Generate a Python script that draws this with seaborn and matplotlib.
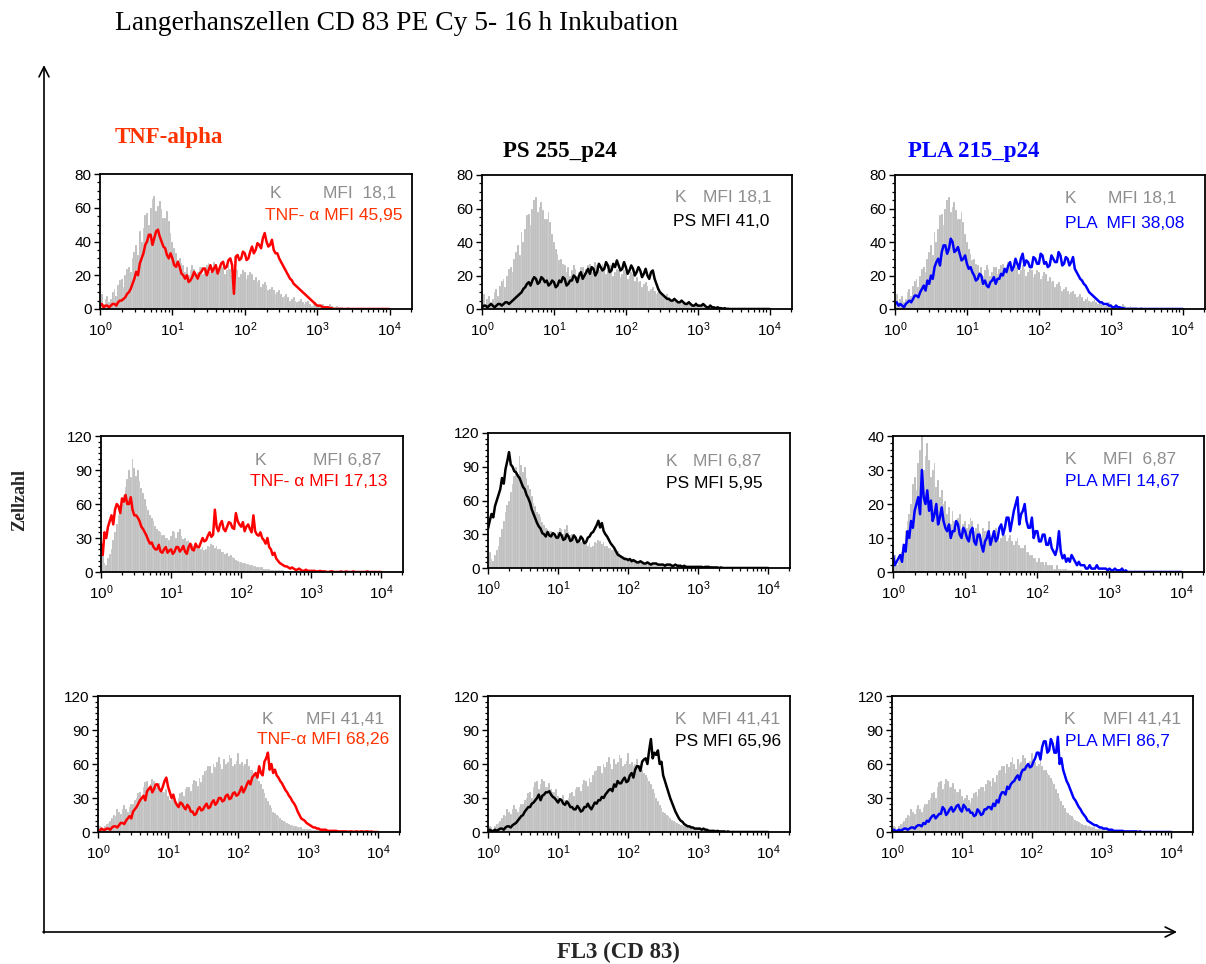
import numpy as np
import matplotlib
matplotlib.use("Agg")
import matplotlib.pyplot as plt
import seaborn as sns
from matplotlib.ticker import AutoMinorLocator, FixedLocator, LogLocator, NullFormatter

# ---------------------------------------------------------------------------
# Cell counts per channel; channels spaced 0.025 decades from 10^0 to 10^4.
# Each source line holds half a decade (20 channels).
# ---------------------------------------------------------------------------
LOG_START, LOG_STOP, N_BINS = 0.0, 4.0, 161
Z20 = [0] * 20

# Control (K) histograms
k_row1 = ([5, 9, 3, 6, 8, 4, 6, 10, 12, 8, 14, 17, 18, 13, 20, 24, 25, 22, 30, 34] +
          [38, 32, 46, 40, 48, 56, 57, 50, 60, 65, 67, 58, 61, 64, 59, 54, 54, 58, 52, 45] +
          [40, 36, 33, 29, 30, 27, 26, 22, 25, 20, 23, 26, 24, 20, 22, 25, 25, 21, 24, 26] +
          [27, 22, 25, 28, 26, 23, 24, 27, 25, 21, 23, 26, 24, 20, 22, 24, 23, 19, 21, 23] +
          [22, 18, 20, 22, 21, 17, 19, 16, 17, 13, 15, 16, 14, 11, 12, 13, 11, 9, 10, 11] +
          [9, 7, 8, 9, 7, 5, 6, 7, 5, 4, 5, 6, 4, 3, 4, 5, 3, 2, 3, 4] +
          [3, 2, 2, 3, 2, 1, 2, 3, 2, 1, 1, 2, 1, 1, 1, 0.5, 0.5, 1, 0.5, 0.5] +
          [0.5, 0, 0.5, 0, 0, 0, 0, 0, 0, 0, 0, 0, 0, 0, 0, 0, 0, 0, 0, 0] + [0])
k_row2 = ([10, 14, 8, 6, 12, 16, 20, 28, 35, 42, 50, 56, 60, 68, 75, 82, 90, 84, 100, 92] +
          [85, 90, 80, 74, 70, 64, 58, 55, 50, 48, 45, 41, 38, 36, 35, 33, 33, 30, 30, 28] +
          [32, 36, 35, 30, 35, 38, 32, 29, 30, 27, 28, 24, 25, 23, 24, 21, 22, 20, 22, 19] +
          [20, 23, 22, 25, 24, 21, 23, 20, 20, 18, 18, 16, 17, 14, 15, 13, 12, 11, 10, 9] +
          [9, 8, 8, 7, 7, 6, 6, 5, 5, 4, 4, 4, 4, 3, 3, 3, 3, 2, 2, 2] +
          [2, 2, 2, 2, 2, 1, 1, 1, 1, 1, 1, 1, 1, 0.5, 0.5, 0.5, 0.5, 0.5, 0.5, 0.5] +
          [0.5, 0.5, 0.5, 0, 0.5, 0, 0, 0, 0, 0, 0, 0, 0, 0, 0, 0, 0, 0, 0, 0] +
          Z20 + [0])
k_row2_pla = ([3, 5, 2, 3, 4, 6, 8, 12, 15, 17, 20, 26, 28, 24, 32, 36, 40, 30, 34, 38] +
              [33, 28, 30, 32, 25, 27, 22, 24, 20, 21, 17, 19, 14, 18, 15, 13, 16, 17, 13, 14] +
              [15, 13, 14, 16, 15, 12, 13, 14, 12, 10, 13, 12, 12, 15, 11, 10, 12, 13, 11, 9] +
              [10, 12, 11, 9, 10, 11, 9, 8, 9, 10, 8, 7, 7, 8, 6, 6, 5, 5, 4, 4] +
              [3, 4, 3, 3, 2, 3, 2, 2, 2, 1, 1, 2, 1, 1, 1, 1, 1, 0.5, 0.5, 0.5] +
              [0.5, 0.5, 0.5, 0.5, 0.5, 0, 0, 0, 0, 0, 0, 0, 0, 0, 0, 0, 0, 0, 0, 0] +
              Z20 + Z20 + [0])
k_row3 = ([3, 5, 4, 2, 5, 7, 8, 10, 12, 15, 14, 20, 18, 16, 20, 24, 20, 18, 22, 25] +
          [25, 28, 30, 34, 35, 30, 40, 44, 45, 38, 42, 47, 45, 40, 40, 43, 38, 35, 35, 38] +
          [32, 28, 30, 33, 28, 26, 30, 34, 35, 32, 38, 40, 40, 36, 42, 46, 45, 41, 48, 44] +
          [50, 54, 55, 58, 58, 52, 60, 57, 62, 66, 60, 56, 64, 60, 62, 68, 65, 58, 60, 63] +
          [70, 60, 62, 58, 60, 64, 58, 55, 55, 52, 50, 48, 45, 42, 38, 34, 30, 27, 24, 21] +
          [18, 17, 15, 14, 12, 11, 10, 9, 8, 7, 6, 6, 5, 5, 4, 4, 4, 3, 3, 3] +
          [3, 3, 2, 2, 2, 2, 2, 1, 1, 1, 1, 1, 1, 1, 1, 1, 1, 0.5, 0.5, 0.5] +
          [0.5, 0.5, 0.5, 0.5, 0.5, 0, 0, 0, 0, 0, 0, 0, 0, 0, 0, 0, 0, 0, 0, 0] + [0])

# Stimulated samples
tnf_row1 = ([2, 3, 1, 2, 2, 1, 2, 3, 3, 2, 4, 5, 5, 6, 7, 9, 10, 12, 15, 18] +
            [22, 20, 27, 30, 33, 38, 40, 44, 44, 38, 42, 46, 47, 43, 40, 37, 36, 32, 30, 33] +
            [30, 26, 25, 28, 25, 21, 20, 18, 20, 16, 17, 19, 22, 20, 18, 21, 22, 24, 24, 20] +
            [23, 26, 22, 24, 26, 21, 24, 27, 28, 24, 25, 29, 30, 26, 9, 31, 32, 29, 30, 34] +
            [33, 29, 30, 34, 37, 33, 35, 39, 38, 36, 42, 45, 40, 37, 38, 41, 35, 33, 33, 30] +
            [28, 26, 24, 22, 20, 18, 17, 15, 14, 13, 12, 11, 10, 9, 8, 7, 6, 5, 4, 3] +
            [2, 2, 2, 1, 1, 1, 1, 0.5, 0.5, 0, 0, 0, 0, 0, 0, 0, 0, 0, 0, 0] +
            Z20 + [0])
ps_row1 = ([1, 2, 2, 1, 2, 3, 2, 1, 2, 3, 3, 2, 3, 4, 4, 3, 4, 5, 6, 7] +
           [8, 9, 10, 12, 13, 15, 16, 14, 17, 19, 18, 15, 16, 19, 18, 16, 17, 14, 15, 17] +
           [16, 13, 14, 17, 16, 19, 18, 14, 15, 17, 17, 20, 19, 16, 20, 22, 18, 20, 22, 24] +
           [21, 25, 24, 20, 22, 27, 25, 23, 24, 28, 26, 22, 23, 27, 25, 29, 26, 23, 24, 28] +
           [25, 21, 23, 26, 24, 20, 22, 25, 23, 19, 21, 24, 20, 18, 22, 23, 18, 15, 12, 10] +
           [9, 8, 7, 6, 6, 5, 5, 6, 5, 4, 4, 5, 4, 3, 3, 4, 3, 2, 2, 3] +
           [2, 2, 2, 3, 2, 1, 1, 2, 1, 1, 0.5, 1, 0.5, 0.5, 0, 0.5, 0, 0, 0, 0] +
           Z20 + [0])
pla_row1 = ([3, 4, 2, 3, 2, 1, 3, 4, 5, 4, 6, 8, 8, 7, 10, 12, 14, 11, 17, 15] +
            [20, 18, 25, 28, 30, 26, 34, 38, 38, 33, 36, 42, 40, 34, 35, 37, 33, 29, 30, 32] +
            [27, 24, 25, 22, 20, 17, 18, 21, 20, 15, 17, 14, 13, 16, 17, 19, 15, 18, 18, 21] +
            [20, 24, 22, 26, 28, 23, 25, 30, 27, 24, 30, 33, 26, 29, 28, 25, 25, 31, 30, 27] +
            [27, 33, 32, 27, 28, 25, 26, 32, 30, 28, 28, 34, 32, 26, 27, 31, 30, 26, 28, 31] +
            [24, 22, 20, 18, 17, 15, 14, 12, 10, 9, 8, 7, 6, 5, 4, 4, 3, 3, 3, 2] +
            [2, 1, 1, 2, 1, 1, 0.5, 0.5, 0, 0, 0, 0, 0, 0, 0, 0, 0, 0, 0, 0] +
            Z20 + [0])
tnf_row2 = ([25, 15, 35, 30, 40, 45, 50, 42, 55, 60, 58, 52, 65, 62, 68, 60, 60, 66, 55, 50] +
            [50, 48, 45, 40, 38, 35, 32, 28, 25, 26, 22, 20, 20, 24, 18, 17, 20, 22, 17, 19] +
            [20, 16, 18, 22, 22, 18, 20, 23, 18, 16, 22, 25, 20, 19, 25, 22, 22, 26, 30, 27] +
            [28, 32, 35, 31, 33, 55, 40, 36, 42, 45, 38, 36, 40, 44, 43, 39, 38, 52, 45, 42] +
            [40, 44, 36, 40, 42, 38, 35, 50, 36, 33, 32, 35, 30, 28, 25, 30, 22, 20, 15, 17] +
            [12, 10, 8, 7, 6, 5, 5, 4, 3, 4, 3, 2, 2, 3, 2, 1, 1, 2, 1, 1] +
            [1, 1, 1, 0.5, 0.5, 1, 0.5, 0.5, 0.5, 0, 0, 0.5, 0.5, 0, 0, 0, 0, 0.5, 0, 0] +
            [0.5, 0, 0, 0, 0.5, 0, 0, 0, 0, 0, 0, 0, 0.5, 0, 0, 0, 0, 0, 0, 0] + [0])
ps_row2 = ([35, 42, 48, 45, 55, 60, 65, 70, 80, 75, 88, 95, 103, 92, 90, 86, 85, 82, 80, 76] +
           [72, 70, 65, 62, 58, 52, 48, 44, 40, 37, 35, 31, 30, 28, 32, 29, 28, 31, 30, 27] +
           [27, 31, 29, 25, 26, 30, 28, 24, 25, 29, 27, 23, 24, 28, 26, 22, 23, 27, 28, 31] +
           [32, 35, 38, 42, 36, 40, 33, 30, 28, 25, 22, 20, 18, 15, 12, 11, 10, 9, 8, 8] +
           [7, 8, 6, 7, 6, 5, 5, 6, 5, 4, 4, 5, 4, 3, 4, 4, 4, 3, 3, 3] +
           [3, 2, 3, 3, 3, 2, 2, 3, 2, 2, 2, 1, 2, 1, 1, 1, 1, 1, 1, 1] +
           [1, 1, 1, 0.5, 1, 1, 1, 0.5, 0.5, 0.5, 0.5, 0.5, 0, 0.5, 0, 0, 0, 0, 0, 0] +
           Z20 + [0])
pla_row2 = ([5, 2, 3, 4, 5, 3, 8, 6, 12, 10, 15, 13, 18, 20, 22, 17, 30, 22, 20, 24] +
            [18, 21, 15, 17, 20, 14, 16, 19, 15, 13, 12, 14, 10, 12, 12, 15, 14, 11, 10, 13] +
            [12, 10, 9, 12, 13, 9, 8, 11, 11, 8, 6, 9, 10, 12, 8, 10, 12, 9, 10, 13] +
            [14, 11, 13, 16, 16, 12, 15, 18, 20, 22, 14, 17, 18, 20, 15, 13, 13, 16, 10, 12] +
            [12, 9, 9, 11, 11, 8, 8, 10, 7, 6, 5, 7, 12, 6, 4, 5, 3, 4, 3, 5] +
            [4, 3, 2, 3, 2, 2, 2, 1, 1, 2, 1, 1, 1, 2, 1, 1, 1, 1, 1, 0.5] +
            [1, 0.5, 0.5, 1, 0.5, 0.5, 0.5, 1, 0, 0.5, 0, 0, 0, 0, 0, 0, 0, 0, 0, 0] +
            Z20 + [0])
tnf_row3 = ([2, 1, 3, 2, 2, 3, 3, 2, 4, 5, 5, 4, 6, 8, 8, 7, 10, 12, 14, 12] +
            [18, 20, 22, 25, 28, 30, 32, 28, 36, 38, 40, 35, 38, 42, 42, 38, 36, 40, 45, 48] +
            [40, 35, 30, 33, 27, 24, 22, 26, 25, 22, 20, 24, 22, 18, 18, 15, 16, 20, 22, 19] +
            [20, 23, 25, 21, 22, 26, 28, 24, 26, 30, 30, 27, 28, 32, 33, 29, 30, 34, 35, 32] +
            [33, 36, 40, 35, 38, 42, 45, 42, 48, 50, 52, 48, 58, 52, 50, 62, 65, 70, 55, 60] +
            [52, 55, 50, 48, 45, 43, 40, 37, 35, 32, 30, 27, 25, 22, 18, 15, 12, 11, 10, 8] +
            [7, 6, 5, 4, 4, 3, 3, 2, 2, 2, 2, 1, 1, 1, 1, 1, 1, 0.5, 0.5, 0.5] +
            [0.5, 0.5, 0.5, 0, 0.5, 0.5, 0, 0.5, 0.5, 0, 0.5, 0.5, 0, 0.5, 0.5, 0, 0.5, 0, 0, 0] + [0])
ps_row3 = ([1, 2, 1, 1, 2, 1, 2, 3, 3, 2, 4, 5, 5, 4, 6, 7, 8, 10, 12, 14] +
           [15, 18, 20, 22, 22, 25, 26, 28, 30, 33, 28, 32, 33, 35, 35, 36, 33, 31, 30, 28] +
           [26, 29, 28, 25, 24, 27, 25, 22, 22, 20, 20, 23, 21, 18, 19, 22, 22, 25, 22, 20] +
           [23, 26, 25, 28, 28, 31, 30, 33, 35, 37, 38, 36, 42, 40, 45, 43, 43, 46, 48, 44] +
           [45, 50, 52, 48, 55, 58, 58, 54, 62, 64, 65, 60, 72, 82, 65, 70, 68, 72, 60, 62] +
           [50, 45, 40, 35, 30, 26, 22, 18, 15, 12, 10, 9, 7, 6, 5, 5, 4, 4, 3, 3] +
           [3, 3, 2, 3, 2, 2, 1, 1, 1, 1, 0.5, 1, 0.5, 0.5, 0.5, 0.5, 0, 0.5, 0, 0] +
           Z20 + [0])
pla_row3 = ([1, 2, 1, 1, 2, 1, 2, 3, 3, 2, 3, 4, 4, 3, 5, 6, 6, 5, 8, 7] +
            [10, 9, 12, 14, 15, 12, 14, 16, 16, 22, 20, 15, 17, 20, 22, 18, 20, 23, 24, 20] +
            [18, 24, 22, 19, 20, 17, 17, 14, 15, 20, 18, 15, 16, 20, 20, 22, 22, 20, 25, 23] +
            [28, 26, 32, 35, 35, 33, 40, 38, 42, 44, 45, 48, 50, 46, 52, 55, 55, 58, 60, 57] +
            [58, 62, 65, 70, 70, 64, 75, 80, 80, 70, 72, 82, 78, 70, 70, 84, 60, 65, 55, 50] +
            [45, 42, 38, 34, 30, 28, 25, 22, 20, 17, 15, 13, 10, 9, 8, 7, 6, 6, 5, 4] +
            [4, 3, 3, 3, 2, 2, 2, 1, 1, 1, 1, 1, 1, 0.5, 0.5, 0.5, 0.5, 0.5, 0.5, 0.5] +
            [0.5, 0, 0.5, 0, 0, 0, 0, 0, 0, 0, 0, 0, 0, 0, 0, 0, 0, 0, 0, 0] + [0])

for series in (k_row1, k_row2, k_row2_pla, k_row3, tnf_row1, ps_row1, pla_row1,
               tnf_row2, ps_row2, pla_row2, tnf_row3, ps_row3, pla_row3):
    assert len(series) == N_BINS

# Labels
column_titles = ["TNF-alpha", "PS 255_p24", "PLA 215_p24"]
k_labels = ["MFI  18,1", "MFI 18,1", "MFI 18,1",
            "MFI 6,87", "MFI 6,87", "MFI  6,87",
            "MFI 41,41", "MFI 41,41", "MFI 41,41"]
sample_labels = ["TNF- \u03b1 MFI 45,95", "PS MFI 41,0", "PLA  MFI 38,08",
                 "TNF- \u03b1 MFI 17,13", "PS MFI 5,95", "PLA MFI 14,67",
                 "TNF-\u03b1 MFI 68,26", "PS MFI 65,96", "PLA MFI 86,7"]

# ---------------------------------------------------------------------------
W, H = 1206, 964
sns.set_theme(style="white")
plt.rcParams["font.family"] = ["Liberation Sans", "DejaVu Sans"]
plt.rcParams["mathtext.fontset"] = "custom"
plt.rcParams["mathtext.rm"] = "Liberation Sans"
plt.rcParams["mathtext.it"] = "Liberation Sans:italic"

GRAY_FILL = "#B9B9B9"
GRAY_TEXT = "#8E8E8E"
RED = "#FF0000"
ORANGE_RED = "#FF3300"
BLUE = "#0000FF"
BLACK = "#000000"

fig = plt.figure(figsize=(W / 100, H / 100), dpi=100)


def fx(px):
    return px / W


def fy(py):
    return 1 - py / H


centers = 10 ** np.linspace(LOG_START, LOG_STOP, N_BINS)
half = (LOG_STOP - LOG_START) / (N_BINS - 1) / 2
bin_range = (LOG_START - half, LOG_STOP + half)

# (left, top, right, bottom) in pixels, control, sample, colour, ymax, ystep, minor divisions,
# K label position, sample label position, sample label colour
panels = [
    ((100, 174, 412, 309), k_row1, tnf_row1, RED, 80, 20, 4, (270, 323, 193), (265, 215), ORANGE_RED),
    ((482, 175, 792, 309), k_row1, ps_row1, BLACK, 80, 20, 4, (675, 703, 198), (673, 221), BLACK),
    ((895, 175, 1205, 309), k_row1, pla_row1, BLUE, 80, 20, 4, (1065, 1108, 199), (1065, 223), BLUE),
    ((101, 436, 403, 572), k_row2, tnf_row2, RED, 120, 30, 6, (255, 313, 460), (250, 481), RED),
    ((488, 433, 790, 568), k_row2, ps_row2, BLACK, 120, 30, 6, (666, 693, 461), (666, 483), BLACK),
    ((893, 436, 1204, 572), k_row2_pla, pla_row2, BLUE, 40, 10, 5, (1065, 1103, 459), (1065, 481), BLUE),
    ((98, 696, 400, 832), k_row3, tnf_row3, RED, 120, 30, 6, (262, 306, 719), (257, 740), ORANGE_RED),
    ((488, 696, 790, 832), k_row3, ps_row3, BLACK, 120, 30, 6, (675, 702, 719), (675, 742), BLACK),
    ((892, 696, 1193, 832), k_row3, pla_row3, BLUE, 120, 30, 6, (1064, 1103, 719), (1065, 742), BLUE),
]

for i, (box, ctrl, sample, col, ymax, ystep, ndiv, kpos, spos, scol) in enumerate(panels):
    l, t, r, b = box
    ax = fig.add_axes([fx(l), fy(b), (r - l) / W, (b - t) / H])
    # control: filled grey histogram with fine channel gaps
    sns.histplot(x=centers, weights=ctrl, bins=N_BINS, binrange=bin_range, log_scale=True,
                 element="bars", fill=True, color=GRAY_FILL, edgecolor="white",
                 linewidth=0.15, alpha=1.0, ax=ax)
    # sample: outline through the channel counts
    sns.lineplot(x=centers, y=sample, color=col, linewidth=1.8, ax=ax)
    ax.set_xscale("log")
    ax.set_xlim(1, 10 ** 4.31)
    ax.set_ylim(0, ymax)
    ax.set_xlabel("")
    ax.set_ylabel("")
    ax.xaxis.set_major_locator(FixedLocator([1, 10, 100, 1000, 10000]))
    ax.xaxis.set_minor_locator(LogLocator(base=10, subs=np.arange(2, 10), numticks=20))
    ax.xaxis.set_minor_formatter(NullFormatter())
    ax.yaxis.set_major_locator(FixedLocator(np.arange(0, ymax + 1, ystep)))
    ax.yaxis.set_minor_locator(AutoMinorLocator(ndiv))
    ax.tick_params(which="major", direction="out", length=4, width=1.0, color="black",
                   labelsize=11, labelcolor="black", pad=2,
                   bottom=True, left=True, top=False, right=False)
    ax.tick_params(which="minor", direction="out", length=2.5, width=0.9, color="black",
                   bottom=True, left=True, top=False, right=False)
    ax.tick_params(axis="x", which="major", pad=4)
    for s in ax.spines.values():
        s.set_visible(True)
        s.set_color("black")
        s.set_linewidth(1.3)
    ax.grid(False)

    fig.text(fx(kpos[0]), fy(kpos[2]), "K", color=GRAY_TEXT, fontsize=12.5, va="center")
    fig.text(fx(kpos[1]), fy(kpos[2]), k_labels[i], color=GRAY_TEXT, fontsize=12.5, va="center")
    fig.text(fx(spos[0]), fy(spos[1]), sample_labels[i], color=scol, fontsize=12.5, va="center")

# Column headings
serif = ["Liberation Serif", "DejaVu Serif"]
fig.text(fx(115), fy(138), column_titles[0], color=ORANGE_RED, fontsize=16.5,
         fontweight="bold", family=serif, va="center")
fig.text(fx(503), fy(152), column_titles[1], color=BLACK, fontsize=16.5,
         fontweight="bold", family=serif, va="center")
fig.text(fx(908), fy(152), column_titles[2], color=BLUE, fontsize=16.5,
         fontweight="bold", family=serif, va="center")

# Title
fig.text(fx(115), fy(23), "Langerhanszellen CD 83 PE Cy 5- 16 h Inkubation", color=BLACK,
         fontsize=19.8, family=serif, va="center")

# Overall axes drawn as arrows
over = fig.add_axes([0, 0, 1, 1], facecolor="none")
over.set_xlim(0, W)
over.set_ylim(H, 0)
over.axis("off")
over.annotate("", xy=(44, 65), xytext=(44, 933),
              arrowprops=dict(arrowstyle="->", lw=1.2, color="black", mutation_scale=18,
                              shrinkA=0, shrinkB=0))
over.annotate("", xy=(1177, 932), xytext=(43, 932),
              arrowprops=dict(arrowstyle="->", lw=1.2, color="black", mutation_scale=18,
                              shrinkA=0, shrinkB=0))
over.text(20, 500, "Zellzahl", rotation=90, fontsize=13, fontweight="bold", family=serif,
          ha="center", va="center")
over.text(618, 952, "FL3 (CD 83)", fontsize=16.5, fontweight="bold", family=serif,
          ha="center", va="center")

fig.savefig("out.png", dpi=100, facecolor="white")
